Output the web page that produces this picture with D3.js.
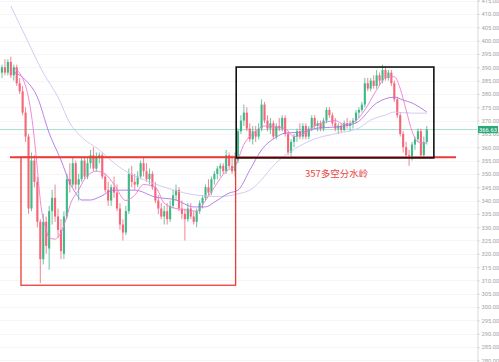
<!DOCTYPE html>
<html>
<head>
<meta charset="utf-8">
<script src="https://cdn.jsdelivr.net/npm/d3@7"></script>
<style>
  html, body { margin: 0; padding: 0; background: #fff; }
  #chart { width: 499px; height: 362px; }
</style>
</head>
<body>
<div id="chart"></div>
<script>
// candle data (index = trading day)
const opens  = [388,390,388,392,387,390,384,381,373,364,337,355,347,332,318,332,322,336,341,334,
                329,320,334,348,346,354,346,348,355,349,354,357,352,356,357,349,344,340,345,343,
                337,331,328,336,350,347,346,349,354,351,348,350,345,340,337,334,336,333,338,342,
                344,337,335,333,337,334,332,336,339,341,345,343,348,350,352,353,351,357,353,351,
                355,366,370,373,367,363,366,364,367,376,370,367,369,364,368,367,371,365,358,362,
                364,366,364,368,364,367,371,368,369,367,370,374,372,369,367,368,366.5,369,368,369,
                370,373,374,376,384,382,385,383,387,385,389,386,388,384,378,372,365,360,357,356,
                361,363,366,357,362];
const highs  = [391,393,393,394,391,391,386,383,375,365,358,357,349,333,335,334,338,344,346,337,
                333,336,350,354,356,355,350,356,356,356,359,360,358,358,358,350,347,346,349,346,
                339,333,338,352,353,350,351,355,356,354,352,351,347,342,339,338,339,340,344,346,
                345,340,337,339,339,336,337,340,342,346,348,349,351,353,354,354,359,358,357,358,
                367,372,376,375,369,368,368,369,378,377,372,371,370,369,371,372,372,366,363,365,
                367,369,369,369,368,372,372,370,370,371,375,375,373,371,369,369,370,371,370,371,
                374,375,377,386,386,386,387,389,388,391,390,389,389,385,379,373,366,362,359,362,
                364,367,367,364,368];
const lows   = [386,387,387,386,385,383,380,372,362,335,336,345,330,309,316,320,314,331,332,326,
                318,318,333,343,345,344,340,347,348,348,352,351,351,354,348,343,338,338,341,336,
                329,325,327,335,345,344,345,348,349,347,346,344,339,335,333,331,331,332,337,340,
                336,333,325,332,333,331,330,335,337,340,342,342,346,348,349,350,350,352,350,349,
                354,365,368,366,362,361,362,363,366,369,366,365,363,363,366,366,364,357,356.5,360,
                362,363,363,363,363,366,367,366,366,366,369,371,368,366,365,365.5,366,367,366,367,
                369,371,373,375,381,381,382,382,383,384,385,385,383,377,371,364,358,356,353,355,
                359,362,356,356,361];
const closes = [390,388,392,387,390,384,381,373,364,337,355,347,332,318,332,323,336,341,334,329,
                321,334,348,346,354,346,348,355,349,354,357,352,356,357,349,344,340,345,343,337,
                331,328,336,350,347,346,349,354,351,348,350,345,340,337,334,336,333,338,342,344,
                337,335,333,337,334,332,336,339,341,345,343,348,350,352,353,351,357,353,351,356,
                366,370,373,367,363,366,364,367,376,370,367,369,364,368,367,371,365,358,362,364,
                366,364,368,364,367,371,368,369,367,370,374,372,369,367,368,366.5,369,368,369,370,
                373,374,376,384,382,385,383,387,385,389,386,388,384,378,372,365,360,357,356,361,
                363,366,357,362,366.63];

// moving average lines (candle index -> price)
const maFastIdx = [4,8,10,12,13,15,16,18,20,22,23,26,28,32,35,38,42,45,48,52,55,59,62,66,69,72,76,79,
                   82,86,89,93,96,99,103,106,110,113,116,120,123,127,130,133,135,137,139,141,144];
const maFastVal = [390,383,372,352,340,329,326,325.5,328,334,338,344,348,351,350,346,340,342,346,345,
                   339,337,336.5,336,340,345,351,353,361,366,368,367.5,367,364,365.5,368,369.5,370,
                   368.5,370,374,381.5,386,386.5,382,374,366,362,361.5];
const maMidIdx  = [4,8,12,16,20,23,25,27,30,33,38,45,52,59,65,69,72,77,80,84,88,93,96,102,107,113,
                   120,127,133,136,139,144];
const maMidVal  = [388.2,385.2,378.8,365.3,355.2,346.6,342.8,340.2,340.2,341.3,343.9,343.9,341.3,
                   340.2,337.6,337.6,339.4,342.8,343.9,351.4,359,363.8,365.3,365.7,367.2,367.6,
                   369.1,376.6,378.8,377.7,376.6,373.2];
const maSlowIdx = [3,8,14,19,23,27,33,38,43,50,58,66,74,80,84,94,105,114,121,125,130,133,139,144];
const maSlowVal = [413,401.5,387.9,378.8,369.1,363.8,359,354.1,350.3,347,344,342,341.5,342.5,343.9,
                   355.2,362.7,365.3,367.2,370.2,372.1,373.2,372.8,372.8];

const lastPrice = 366.63;
const splitLevel = 356.2;           // "357" long/short line as drawn
const splitLabel = "357多空分水岭";
// annotation boxes, by candle index and price
const redBox   = { i0: 6.45, i1: 79.2, top: 356.2, bottom: 308.2 };
const blackBox = { i0: 79.4, i1: 146.4, top: 390.1, bottom: 356.0 };
const splitSpan = [2.7, 153.9];
const yTicks = d3.range(280, 416, 5);

const width = 499, height = 362;
const axisX = 477;

const svg = d3.select("#chart").append("svg")
    .attr("width", width)
    .attr("height", height)
    .style("font-family", "Roboto, 'Noto Sans', sans-serif");

const y = d3.scaleLinear()
    .domain([279.4, 415.26])
    .range([height, 0]);

const x = d3.scaleLinear()
    .domain([0, closes.length - 1])
    .range([1.97, 1.97 + 2.95 * (closes.length - 1)]);

const bodyW = 2.1;

// faint grid
svg.append("g")
    .selectAll("line")
    .data(yTicks)
    .join("line")
    .attr("x1", 0)
    .attr("x2", axisX)
    .attr("y1", d => Math.round(y(d)) + 0.5)
    .attr("y2", d => Math.round(y(d)) + 0.5)
    .attr("stroke", "#f6f6f6");

// last price line
svg.append("line")
    .attr("x1", 0)
    .attr("x2", axisX)
    .attr("y1", y(lastPrice))
    .attr("y2", y(lastPrice))
    .attr("stroke", "#a9ddd0")
    .attr("stroke-width", 1);

// candles
const candles = closes.map((c, i) => ({ i, o: opens[i], h: highs[i], l: lows[i], c }));
const up = "#2bb27b", down = "#f4566a";

const cg = svg.append("g").attr("opacity", 0.9);
cg.selectAll("line.wick")
    .data(candles)
    .join("line")
    .attr("class", "wick")
    .attr("x1", d => x(d.i))
    .attr("x2", d => x(d.i))
    .attr("y1", d => y(d.h))
    .attr("y2", d => y(d.l))
    .attr("stroke", d => d.c >= d.o ? up : down)
    .attr("stroke-width", 0.8);

cg.selectAll("rect.body")
    .data(candles)
    .join("rect")
    .attr("class", "body")
    .attr("x", d => x(d.i) - bodyW / 2)
    .attr("width", bodyW)
    .attr("y", d => y(Math.max(d.o, d.c)))
    .attr("height", d => Math.max(0.8, Math.abs(y(d.o) - y(d.c))))
    .attr("fill", d => d.c >= d.o ? up : down);

// moving averages
function drawMA(idx, vals, color) {
    const pts = idx.map((d, k) => [x(d), y(vals[k])]);
    svg.append("path")
        .attr("d", d3.line().curve(d3.curveMonotoneX)(pts))
        .attr("fill", "none")
        .attr("stroke", color)
        .attr("stroke-width", 0.9);
}
drawMA(maSlowIdx, maSlowVal, "#cdc6ee");
drawMA(maMidIdx, maMidVal, "#ac76e3");
drawMA(maFastIdx, maFastVal, "#ef7bd3");

// red zone + split line
svg.append("rect")
    .attr("x", x(redBox.i0))
    .attr("y", y(redBox.top))
    .attr("width", x(redBox.i1) - x(redBox.i0))
    .attr("height", y(redBox.bottom) - y(redBox.top))
    .attr("fill", "none")
    .attr("stroke", "#ee3a36")
    .attr("stroke-width", 1.3);

svg.append("line")
    .attr("x1", x(splitSpan[0]))
    .attr("x2", x(splitSpan[1]))
    .attr("y1", y(splitLevel))
    .attr("y2", y(splitLevel))
    .attr("stroke", "#ee3a36")
    .attr("stroke-width", 2);

// black box
svg.append("rect")
    .attr("x", x(blackBox.i0))
    .attr("y", y(blackBox.top))
    .attr("width", x(blackBox.i1) - x(blackBox.i0))
    .attr("height", y(blackBox.bottom) - y(blackBox.top))
    .attr("fill", "none")
    .attr("stroke", "#111")
    .attr("stroke-width", 1.6);

svg.append("text")
    .attr("x", x(102.7))
    .attr("y", y(348.8))
    .attr("fill", "#e8453f")
    .attr("font-size", "9.5px")
    .style("font-family", "'Noto Sans CJK SC', sans-serif")
    .text(splitLabel);

// right price axis
const axis = svg.append("g")
    .attr("transform", `translate(${axisX + 0.5},0)`)
    .call(d3.axisRight(y).tickValues(yTicks).tickFormat(d3.format(".2f")).tickSize(2).tickPadding(2));
axis.select(".domain").attr("stroke", "#d9d9d9");
axis.selectAll(".tick line").attr("stroke", "#d0d0d0");
axis.selectAll(".tick text")
    .attr("fill", "#a3a3a3")
    .attr("font-size", "5.8px")
    .style("font-family", "Roboto, sans-serif");

// last price tag
svg.append("rect")
    .attr("x", axisX + 1)
    .attr("y", y(lastPrice) - 3.6)
    .attr("width", 20)
    .attr("height", 7.2)
    .attr("fill", "#27a978");
svg.append("text")
    .attr("x", axisX + 11)
    .attr("y", y(lastPrice) + 2)
    .attr("text-anchor", "middle")
    .attr("fill", "#fff")
    .attr("font-size", "5.8px")
    .text(d3.format(".2f")(lastPrice));
</script>
</body>
</html>
